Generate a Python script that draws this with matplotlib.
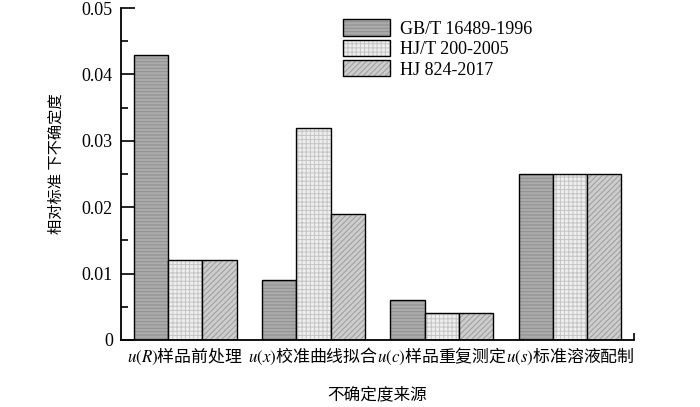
import matplotlib.pyplot as plt
import numpy as np

plt.rcParams['font.family'] = ['Liberation Serif', 'Noto Sans CJK SC']
plt.rcParams['mathtext.fontset'] = 'stix'
plt.rcParams['hatch.linewidth'] = 0.7

# data
categories = [r'$u(R)$样品前处理', r'$u(x)$校准曲线拟合', r'$u(c)$样品重复测定', r'$u(s)$标准溶液配制']
series_names = ['GB/T 16489-1996', 'HJ/T 200-2005', 'HJ 824-2017']
gb_values = [0.043, 0.009, 0.006, 0.025]
hjt_values = [0.012, 0.032, 0.004, 0.025]
hj_values = [0.012, 0.019, 0.004, 0.025]

# fill, hatch, hatch colour for each series
styles = [('#ababab', '-----', '#8e8e8e'),
          ('#eeeeee', '++++', '#c4c4c4'),
          ('#cdcdcd', '//////', '#9c9c9c')]

fig = plt.figure(figsize=(7, 4.07), dpi=100)
ax = fig.add_axes([0.173, 0.165, 0.733, 0.815])

x = np.arange(len(categories))
w = 0.8 / 3
handles = []
for i, (vals, (fc, hatch, hc)) in enumerate(zip([gb_values, hjt_values, hj_values], styles)):
    pos = x - w + i * w
    ax.bar(pos, vals, w, color=fc, hatch=hatch, edgecolor=hc, linewidth=0)
    ax.bar(pos, vals, w, fill=False, edgecolor='black', linewidth=1.0)
    fill = plt.Rectangle((0, 0), 1, 1, facecolor=fc, hatch=hatch, edgecolor=hc, linewidth=0)
    edge = plt.Rectangle((0, 0), 1, 1, fill=False, edgecolor='black', linewidth=1.0)
    handles.append((fill, edge))

ax.set_xlim(-0.5, 3.5)
ax.set_ylim(0, 0.05)
ax.set_yticks([0, 0.01, 0.02, 0.03, 0.04, 0.05])
ax.set_yticklabels(['0', '0.01', '0.02', '0.03', '0.04', '0.05'], fontsize=13)
ax.set_yticks(np.arange(0.005, 0.05, 0.01), minor=True)
ax.tick_params(axis='y', which='major', direction='in', length=10, width=1.2, pad=6)
ax.tick_params(axis='y', which='minor', direction='in', length=5, width=1.2)

ax.set_xticks(x)
ax.set_xticklabels(categories, fontsize=12.2, family=['Noto Sans CJK SC'])
ax.tick_params(axis='x', which='major', length=0, pad=4)
ax.set_xticks([3.5], minor=True)
ax.tick_params(axis='x', which='minor', direction='in', length=5, width=1.2)

for s in ['top', 'right']:
    ax.spines[s].set_visible(False)
for s in ['left', 'bottom']:
    ax.spines[s].set_linewidth(1.3)

ax.set_ylabel('相对标准 下不确定度', family=['Noto Sans CJK SC'], fontsize=11)
ax.yaxis.set_label_coords(-0.11, 0.53)
ax.set_xlabel('不确定度来源', family=['Noto Sans CJK SC'], fontsize=12, labelpad=14)

ax.legend(handles, series_names, loc='upper left', bbox_to_anchor=(0.40, 1.015),
          frameon=False, fontsize=13, handlelength=2.6, handleheight=1.0,
          handletextpad=0.6, labelspacing=0.12)

fig.savefig('out.png', dpi=100)
